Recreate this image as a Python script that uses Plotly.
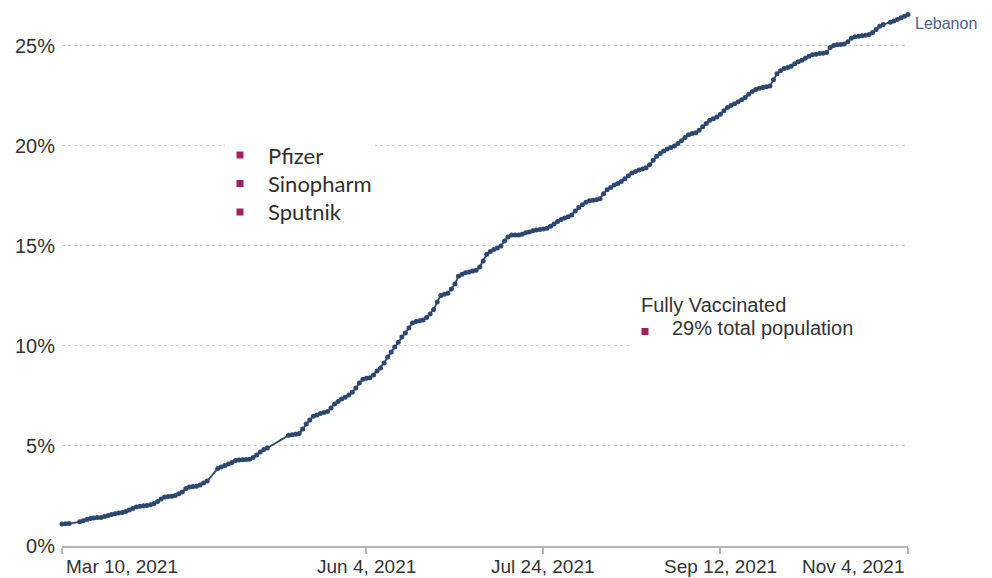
import plotly.graph_objects as go

# share of Lebanon's population fully vaccinated (%), read per day
mar_days = [10, 11, 12, 15, 16, 17, 18, 19, 20, 21, 22, 23, 24, 25, 26, 27, 28, 29, 30, 31]
mar_pct = [1.10, 1.11, 1.12, 1.21, 1.26, 1.32, 1.37, 1.40, 1.42, 1.43,
           1.48, 1.53, 1.57, 1.61, 1.65, 1.68, 1.72, 1.80, 1.88, 1.95]

apr_days = list(range(1, 21)) + list(range(23, 31))
apr_pct = [1.99, 2.01, 2.03, 2.06, 2.12, 2.22, 2.35, 2.45, 2.47, 2.49,
           2.52, 2.61, 2.70, 2.88, 2.95, 2.97, 2.99, 3.05, 3.15, 3.25,
           3.87, 3.95, 4.02, 4.10, 4.17, 4.27, 4.30, 4.31]

may_days = list(range(1, 8)) + list(range(13, 32))
may_pct = [4.32, 4.34, 4.42, 4.55, 4.70, 4.82, 4.90,
           5.53, 5.56, 5.58, 5.62, 5.85, 6.10, 6.30, 6.48, 6.55,
           6.62, 6.67, 6.72, 6.90, 7.10, 7.22, 7.35, 7.44, 7.55, 7.68]

jun_days = list(range(1, 31))
jun_pct = [7.90, 8.15, 8.34, 8.38, 8.41, 8.55, 8.75, 8.90, 9.15, 9.45,
           9.70, 9.95, 10.18, 10.45, 10.65, 10.90, 11.15, 11.22, 11.26, 11.30,
           11.42, 11.60, 11.82, 12.20, 12.52, 12.58, 12.63, 12.85, 13.10, 13.48]

jul_days = list(range(1, 32))
jul_pct = [13.58, 13.66, 13.70, 13.74, 13.78, 13.95, 14.25, 14.58, 14.72, 14.82,
           14.90, 15.00, 15.25, 15.45, 15.54, 15.55, 15.55, 15.58, 15.66, 15.70,
           15.76, 15.80, 15.82, 15.84, 15.88, 15.98, 16.10, 16.22, 16.32, 16.40,
           16.46]

aug_days = list(range(1, 32))
aug_pct = [16.55, 16.75, 16.92, 17.05, 17.18, 17.25, 17.28, 17.31, 17.36, 17.60,
           17.80, 17.92, 18.04, 18.12, 18.22, 18.35, 18.50, 18.64, 18.72, 18.79,
           18.84, 18.90, 19.05, 19.28, 19.48, 19.62, 19.74, 19.84, 19.92, 19.99,
           20.12]

sep_days = list(range(1, 31))
sep_pct = [20.25, 20.42, 20.56, 20.62, 20.66, 20.78, 20.95, 21.12, 21.28, 21.36,
           21.44, 21.58, 21.75, 21.92, 22.02, 22.10, 22.20, 22.30, 22.42, 22.58,
           22.72, 22.82, 22.88, 22.92, 22.95, 22.99, 23.30, 23.60, 23.75, 23.86]

oct_days = list(range(1, 29)) + [30, 31]
oct_pct = [23.92, 23.98, 24.10, 24.20, 24.28, 24.38, 24.48, 24.55, 24.58, 24.61,
           24.63, 24.66, 24.92, 25.02, 25.05, 25.07, 25.09, 25.20, 25.38, 25.45,
           25.48, 25.50, 25.53, 25.56, 25.66, 25.82, 25.98, 26.06, 26.18, 26.24]

nov_days = [1, 2, 3, 4]
nov_pct = [26.32, 26.40, 26.48, 26.56]

tick_dates = ['2021-03-10', '2021-06-04', '2021-07-24', '2021-09-12', '2021-11-04']
tick_text = ['Mar 10, 2021', 'Jun 4, 2021', 'Jul 24, 2021', 'Sep 12, 2021', 'Nov 4, 2021']
tick_anchor = ['left', 'center', 'center', 'center', 'right']

y_ticks = [0, 5, 10, 15, 20, 25]
y_text = ['0%', '5%', '10%', '15%', '20%', '25%']

vaccines = ['Pfizer', 'Sinopharm', 'Sputnik']
country = 'Lebanon'

months = [(3, mar_days, mar_pct), (4, apr_days, apr_pct), (5, may_days, may_pct),
          (6, jun_days, jun_pct), (7, jul_days, jul_pct), (8, aug_days, aug_pct),
          (9, sep_days, sep_pct), (10, oct_days, oct_pct), (11, nov_days, nov_pct)]
dates, pct = [], []
for m, days, vals in months:
    dates += [f'2021-{m:02d}-{d:02d}' for d in days]
    pct += vals

NAVY = '#2d4870'
MAGENTA = '#a0215f'

# plot area in pixels: x 62..908, y 2..546
L, R, T, B = 62, 908, 2, 546


def px(x):
    return (x - L) / (R - L)


def py(y):
    return (B - y) / (B - T)


fig = go.Figure()
fig.add_trace(go.Scatter(
    x=dates, y=pct,
    mode='lines+markers',
    line=dict(color=NAVY, width=1.8),
    marker=dict(color=NAVY, size=5),
    cliponaxis=False,
    showlegend=False,
))

annotations = []
for d, t, a in zip(tick_dates, tick_text, tick_anchor):
    annotations.append(dict(
        x=d, y=0, xref='x', yref='paper', text=t, showarrow=False,
        xanchor=a, yanchor='middle', yshift=-20,
        xshift=2 if a == 'left' else (-2 if a == 'right' else 0),
        font=dict(family='Liberation Sans, Arial', size=19, color='#333333'),
    ))

# country label at the end of the line
annotations.append(dict(
    x=dates[-1], y=pct[-1], xref='x', yref='y', text=country, showarrow=False,
    xanchor='left', yanchor='middle', xshift=5, yshift=-9,
    font=dict(family='Liberation Sans, Arial', size=16, color='#4d6190'),
))

shapes = [
    # white boxes that break the gridlines behind the text blocks
    dict(type='rect', xref='paper', yref='paper', x0=px(225), x1=px(375),
         y0=py(230), y1=py(135), fillcolor='white', line_width=0, layer='above'),
    dict(type='rect', xref='paper', yref='paper', x0=px(630), x1=px(908),
         y0=py(352), y1=py(288), fillcolor='white', line_width=0, layer='above'),
]

for i, v in enumerate(vaccines):
    yc = 155 + i * 28.5
    shapes.append(dict(type='rect', xref='paper', yref='paper',
                       x0=px(236.5), x1=px(243.5), y0=py(yc + 3.5), y1=py(yc - 3.5),
                       fillcolor=MAGENTA, line_width=0, layer='above'))
    annotations.append(dict(
        x=px(266), y=py(yc), xref='paper', yref='paper', text=v, showarrow=False,
        xanchor='left', yanchor='middle',
        font=dict(family='Lato', size=22, color='#2f2f2f'),
    ))

annotations.append(dict(
    x=px(639), y=py(305), xref='paper', yref='paper', text='Fully Vaccinated',
    showarrow=False, xanchor='left', yanchor='middle',
    font=dict(family='Liberation Sans, Arial', size=20, color='#333333'),
))
shapes.append(dict(type='rect', xref='paper', yref='paper',
                   x0=px(641.5), x1=px(648.5), y0=py(335), y1=py(328),
                   fillcolor=MAGENTA, line_width=0, layer='above'))
annotations.append(dict(
    x=px(670), y=py(328), xref='paper', yref='paper', text='29% total population',
    showarrow=False, xanchor='left', yanchor='middle',
    font=dict(family='Liberation Sans, Arial', size=20, color='#333333'),
))

fig.update_layout(
    width=992, height=578,
    margin=dict(l=L, r=992 - R, t=T, b=578 - B),
    plot_bgcolor='white', paper_bgcolor='white',
    annotations=annotations,
    shapes=shapes,
    xaxis=dict(
        type='date', range=[tick_dates[0], tick_dates[-1]],
        tickvals=tick_dates, showticklabels=False,
        ticks='outside', ticklen=6, tickwidth=1.5, tickcolor='#b5b5b5',
        showline=True, linecolor='#b5b5b5', linewidth=1.5,
        showgrid=False, zeroline=False,
    ),
    yaxis=dict(
        range=[0, 27.19], tickvals=y_ticks, ticktext=y_text,
        showgrid=True, gridcolor='#d3d3d3', gridwidth=1, griddash='3px,3px',
        zeroline=False, showline=False, ticks='',
        ticklabelstandoff=6,
        tickfont=dict(family='Liberation Sans, Arial', size=20, color='#333333'),
    ),
)

fig.write_html('out.html', config={'displayModeBar': False},
               post_script="document.body.style.margin='0px';")
